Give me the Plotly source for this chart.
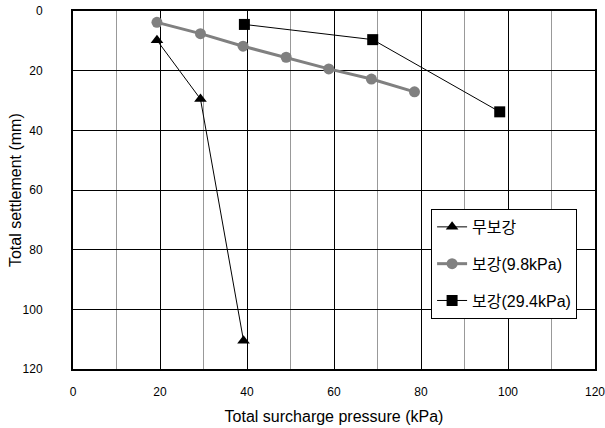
import plotly.graph_objects as go

x_none = [19.3, 29.3, 39.2]
y_none = [9.8, 29.5, 110.5]

x_r98 = [19.3, 29.3, 39.1, 49.0, 58.8, 68.6, 78.5]
y_r98 = [3.8, 7.6, 11.8, 15.5, 19.4, 22.8, 27.1]

x_r294 = [39.4, 68.9, 98.1]
y_r294 = [4.5, 9.6, 33.8]

names = ["무보강", "보강(9.8kPa)", "보강(29.4kPa)"]
x_title = "Total surcharge pressure (kPa)"
y_title = "Total settlement (mm)"

fig = go.Figure()
fig.add_trace(go.Scatter(x=x_none, y=y_none, name=names[0], legendgroup="a",
                         mode="lines+markers",
                         line=dict(color="black", width=1),
                         marker=dict(symbol="triangle-up", size=11, color="black")))
fig.add_trace(go.Scatter(x=x_r98, y=y_r98, name=names[1], legendgroup="b",
                         mode="lines+markers",
                         line=dict(color="#808080", width=3),
                         marker=dict(symbol="circle", size=11, color="#808080")))
fig.add_trace(go.Scatter(x=x_r294, y=y_r294, name=names[2], legendgroup="c",
                         mode="lines+markers",
                         line=dict(color="black", width=1),
                         marker=dict(symbol="square", size=11, color="black")))

font_family = "Liberation Sans, Arial, Noto Sans CJK KR, sans-serif"

fig.update_layout(
    width=605, height=428,
    margin=dict(l=73, r=10, t=11, b=59),
    paper_bgcolor="white", plot_bgcolor="white",
    font=dict(family=font_family, size=12, color="black"),
    showlegend=True,
    legend=dict(x=0.686, y=0.447, xanchor="left", yanchor="top",
                bordercolor="black", borderwidth=1, bgcolor="white",
                font=dict(size=16, family=font_family), tracegroupgap=13),
    xaxis=dict(range=[0, 120], dtick=20, tick0=0, automargin=False,
               showgrid=True, gridcolor="black", gridwidth=1,
               minor=dict(dtick=10, showgrid=True, gridcolor="#999999", gridwidth=1),
               showline=True, linecolor="black", linewidth=2, mirror=True,
               ticks="", ticklabelstandoff=11, zeroline=False,
               ticklabeloverflow="allow",
               title=dict(text=x_title, font=dict(size=16), standoff=12)),
    yaxis=dict(range=[120, 0], dtick=20, tick0=0, automargin=False,
               showgrid=True, gridcolor="black", gridwidth=1,
               showline=True, linecolor="black", linewidth=2, mirror=True,
               ticks="", ticklabelstandoff=26, zeroline=False,
               ticklabeloverflow="allow"),
    annotations=[dict(text=y_title, xref="paper", yref="paper", x=-0.111, y=0.5,
                      xanchor="center", yanchor="middle", textangle=-90,
                      showarrow=False, font=dict(size=16))],
)

fig.write_html("out.html",
               config={"displayModeBar": False},
               post_script="document.body.style.margin='0';document.body.style.overflow='hidden';")
